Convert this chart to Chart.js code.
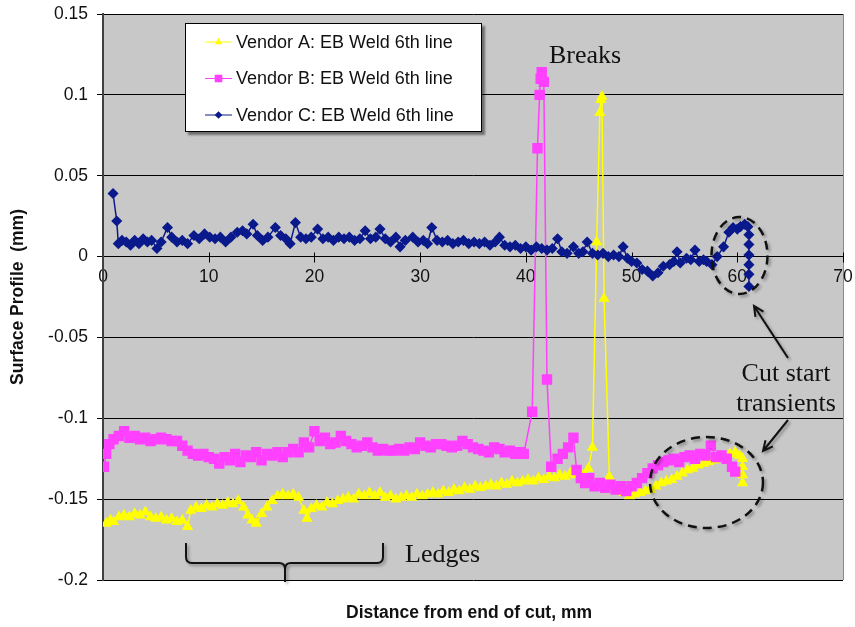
<!DOCTYPE html>
<html>
<head>
<meta charset="utf-8">
<script src="https://cdn.jsdelivr.net/npm/chart.js@4.4.1/dist/chart.umd.min.js"></script>
<style>
  html, body { margin: 0; padding: 0; background: #fff; }
  #wrap { width: 855px; height: 627px; }
</style>
</head>
<body>
<div id="wrap"><canvas id="profileChart" width="855" height="627"></canvas></div>
<script>
// values (x = distance mm, y = surface profile mm)
const seriesNames = ["Vendor A: EB Weld 6th line", "Vendor B: EB Weld 6th line", "Vendor C: EB Weld 6th line"];

const xTickValues = [0, 10, 20, 30, 40, 50, 60, 70];
const xTickLabels = ["0", "10", "20", "30", "40", "50", "60", "70"];
const yTickValues = [-0.2, -0.15, -0.1, -0.05, 0, 0.05, 0.1, 0.15];
const yTickLabels = ["-0.2", "-0.15", "-0.1", "-0.05", "0", "0.05", "0.1", "0.15"];

const vendorAX = [0.3, 0.7, 1.0, 1.5, 2.0, 2.5, 3.0, 3.5, 4.0, 4.5, 5.0, 5.5, 6.0, 6.5, 7.0, 7.5, 8.0, 8.3, 8.8, 9.3,
  9.8, 10.3, 10.8, 11.3, 11.8, 12.3, 12.8, 13.3, 13.7, 14.1, 14.5, 15.0, 15.5, 16.0, 16.5, 17.0, 17.5, 18.0, 18.5, 19.0,
  19.3, 19.7, 20.2, 20.7, 21.2, 21.7, 22.2, 22.7, 23.2, 23.7, 24.2, 24.7, 25.2, 25.7, 26.2, 26.7, 27.2, 27.7, 28.2, 28.7,
  29.2, 29.7, 30.2, 30.7, 31.2, 31.7, 32.2, 32.7, 33.2, 33.7, 34.2, 34.7, 35.2, 35.7, 36.2, 36.7, 37.2, 37.7, 38.2, 38.7,
  39.2, 39.7, 40.2, 40.7, 41.2, 41.7, 42.2, 42.7, 43.2, 43.7, 44.2, 44.7, 45.2, 45.6, 45.9, 46.3, 46.7, 47.0, 47.1, 47.2,
  47.4, 47.9, 48.3, 48.8, 49.3, 49.8, 50.3, 50.8, 51.3, 51.8, 52.3, 52.8, 53.3, 53.8, 54.3, 54.8, 55.3, 55.8, 56.3, 56.8,
  57.3, 57.8, 58.3, 58.8, 59.3, 59.8, 60.2, 60.5, 60.5, 60.5, 60.5];
const vendorAY = [-0.165, -0.163, -0.164, -0.161, -0.160, -0.161, -0.159, -0.160, -0.158, -0.161, -0.162, -0.161, -0.163, -0.162, -0.164, -0.163, -0.167, -0.157, -0.155, -0.156,
  -0.154, -0.155, -0.153, -0.154, -0.152, -0.153, -0.151, -0.155, -0.160, -0.163, -0.165, -0.159, -0.155, -0.151, -0.148, -0.147, -0.148, -0.147, -0.149, -0.157,
  -0.162, -0.156, -0.154, -0.155, -0.152, -0.153, -0.151, -0.150, -0.149, -0.150, -0.147, -0.148, -0.146, -0.148, -0.146, -0.149, -0.148, -0.150, -0.149, -0.148,
  -0.149, -0.147, -0.148, -0.147, -0.146, -0.147, -0.145, -0.146, -0.144, -0.145, -0.143, -0.144, -0.142, -0.143, -0.142, -0.141, -0.142, -0.140, -0.141, -0.139,
  -0.140, -0.139, -0.138, -0.139, -0.137, -0.138, -0.136, -0.137, -0.135, -0.136, -0.134, -0.135, -0.134, -0.136, -0.131, -0.118, 0.009, 0.089, 0.097, 0.099,
  -0.026, -0.136, -0.142, -0.145, -0.146, -0.148, -0.147, -0.146, -0.145, -0.144, -0.142, -0.140, -0.139, -0.138, -0.136, -0.134, -0.132, -0.131, -0.129, -0.128,
  -0.127, -0.126, -0.125, -0.124, -0.122, -0.121, -0.123, -0.125, -0.130, -0.135, -0.140];

const vendorBX = [0.1, 0.3, 0.6, 1.0, 1.5, 2.0, 2.5, 3.0, 3.5, 4.0, 4.5, 5.0, 5.5, 6.0, 6.5, 7.0, 7.5, 8.0, 8.5, 9.0,
  9.5, 10.0, 10.5, 11.0, 11.5, 12.0, 12.5, 13.0, 13.5, 14.0, 14.5, 15.0, 15.5, 16.0, 16.5, 17.0, 17.5, 18.0, 18.5, 19.0,
  19.5, 20.0, 20.5, 21.0, 21.5, 22.0, 22.5, 23.0, 23.5, 24.0, 24.5, 25.0, 25.5, 26.0, 26.5, 27.0, 27.5, 28.0, 28.5, 29.0,
  29.5, 30.0, 30.5, 31.0, 31.5, 32.0, 32.5, 33.0, 33.5, 34.0, 34.5, 35.0, 35.5, 36.0, 36.5, 37.0, 37.5, 38.0, 38.5, 39.0,
  39.5, 39.8, 40.6, 41.1, 41.3, 41.4, 41.5, 41.7, 42.0, 42.4, 43.0, 43.5, 44.0, 44.5, 44.8, 45.2, 45.6, 46.0, 46.5, 47.0,
  47.5, 48.0, 48.5, 49.0, 49.5, 50.0, 50.5, 51.0, 51.5, 52.0, 52.5, 53.0, 53.5, 54.0, 54.5, 55.0, 55.5, 56.0, 56.5, 57.0,
  57.5, 58.0, 58.5, 59.0, 59.5, 59.8];
const vendorBY = [-0.130, -0.122, -0.116, -0.113, -0.111, -0.108, -0.112, -0.111, -0.113, -0.112, -0.114, -0.113, -0.112, -0.113, -0.114, -0.114, -0.117, -0.120, -0.122, -0.123,
  -0.122, -0.124, -0.125, -0.128, -0.124, -0.126, -0.122, -0.127, -0.123, -0.124, -0.121, -0.126, -0.122, -0.123, -0.121, -0.124, -0.121, -0.119, -0.121, -0.115,
  -0.118, -0.108, -0.114, -0.112, -0.116, -0.115, -0.111, -0.114, -0.116, -0.118, -0.117, -0.115, -0.118, -0.120, -0.119, -0.120, -0.120, -0.119, -0.120, -0.118,
  -0.119, -0.115, -0.117, -0.118, -0.116, -0.116, -0.117, -0.118, -0.117, -0.114, -0.116, -0.118, -0.119, -0.120, -0.121, -0.118, -0.119, -0.121, -0.120, -0.122,
  -0.121, -0.122, -0.096, 0.067, 0.100, 0.110, 0.114, 0.108, -0.076, -0.130, -0.125, -0.122, -0.118, -0.112, -0.132, -0.137, -0.140, -0.137, -0.142, -0.140,
  -0.143, -0.141, -0.144, -0.142, -0.145, -0.142, -0.140, -0.137, -0.134, -0.131, -0.129, -0.127, -0.126, -0.125, -0.127, -0.124, -0.123, -0.125, -0.122, -0.123,
  -0.117, -0.124, -0.123, -0.125, -0.130, -0.133];

const vendorCX = [0.95, 1.3, 1.45, 1.8, 2.2, 2.6, 3.0, 3.4, 3.8, 4.2, 4.6, 5.1, 5.5, 6.1, 6.5, 7.0, 7.5, 8.0, 8.6, 9.1,
  9.6, 10.1, 10.6, 11.1, 11.6, 12.1, 12.7, 13.2, 13.6, 14.2, 14.6, 15.1, 15.6, 16.3, 16.8, 17.3, 17.7, 18.2, 18.7, 19.2,
  19.7, 20.3, 20.8, 21.3, 21.8, 22.3, 22.8, 23.3, 23.8, 24.3, 24.8, 25.3, 25.8, 26.2, 26.7, 27.2, 27.7, 28.1, 28.6, 29.3,
  29.8, 30.3, 30.7, 31.1, 31.6, 32.1, 32.6, 33.1, 33.6, 34.1, 34.6, 35.1, 35.6, 36.1, 36.6, 37.1, 37.5, 38.0, 38.5, 39.0,
  39.5, 40.0, 40.5, 41.0, 41.5, 42.0, 42.5, 43.0, 43.4, 43.9, 44.5, 45.0, 45.4, 45.8, 46.3, 46.8, 47.3, 47.8, 48.3, 48.8,
  49.2, 49.6, 50.0, 50.5, 51.0, 51.5, 52.0, 52.5, 53.0, 53.6, 54.0, 54.3, 54.6, 55.2, 55.6, 56.0, 56.4, 56.8, 57.1, 57.6,
  58.1, 58.7, 59.2, 59.6, 60.0, 60.3, 60.7, 61.0, 61.1, 61.1, 61.1, 61.1, 61.1, 61.1];
const vendorCY = [0.039, 0.022, 0.008, 0.010, 0.009, 0.007, 0.010, 0.008, 0.011, 0.009, 0.010, 0.005, 0.009, 0.018, 0.012, 0.009, 0.010, 0.008, 0.013, 0.011,
  0.014, 0.012, 0.011, 0.012, 0.009, 0.012, 0.015, 0.016, 0.014, 0.020, 0.013, 0.010, 0.012, 0.018, 0.013, 0.011, 0.008, 0.021, 0.012, 0.011,
  0.012, 0.017, 0.011, 0.012, 0.010, 0.012, 0.011, 0.012, 0.010, 0.011, 0.016, 0.011, 0.012, 0.017, 0.011, 0.009, 0.012, 0.006, 0.010, 0.012,
  0.009, 0.010, 0.008, 0.018, 0.010, 0.009, 0.010, 0.008, 0.009, 0.010, 0.008, 0.009, 0.008, 0.009, 0.007, 0.009, 0.012, 0.007, 0.006, 0.007,
  0.005, 0.006, 0.004, 0.006, 0.005, 0.004, 0.005, 0.011, 0.003, 0.002, 0.006, 0.002, 0.003, 0.009, 0.002, 0.001, 0.002, 0.000, 0.001, 0.000,
  0.006, -0.001, -0.003, -0.004, -0.008, -0.009, -0.012, -0.010, -0.006, -0.005, -0.003, 0.003, -0.004, -0.001, -0.002, 0.004, -0.003, -0.002, -0.003, -0.005,
  0.000, 0.006, 0.015, 0.018, 0.017, 0.0185, 0.020, 0.0185, 0.0135, 0.0075, 0.001, -0.005, -0.011, -0.0185];

const zip = (xs, ys) => xs.map((x, i) => ({ x: x, y: ys[i] }));

const tickFont = { family: "'Liberation Sans', Arial, sans-serif", size: 17.5 };
const yTickFont = { family: "'Liberation Sans', Arial, sans-serif", size: 17.5, lineHeight: 0.5 };
const titleFont = { family: "'Liberation Sans', Arial, sans-serif", size: 17.5, weight: 'bold' };
const noteFont = "26px 'Liberation Serif', 'Times New Roman', serif";

// grey plot area + light right edge
const plotBackdrop = {
  id: 'plotBackdrop',
  beforeDraw(chart) {
    const { ctx, chartArea: a } = chart;
    ctx.save();
    ctx.fillStyle = '#c8c8c8';
    ctx.fillRect(a.left, a.top, a.right - a.left, a.bottom - a.top);
    ctx.strokeStyle = '#8c8c8c';
    ctx.lineWidth = 1;
    ctx.beginPath();
    ctx.moveTo(a.right + 0.5, a.top);
    ctx.lineTo(a.right + 0.5, a.bottom);
    ctx.stroke();
    // x tick marks cross the zero line
    const xs = chart.scales.x, y0 = Math.round(chart.scales.y.getPixelForValue(0)) + 0.5;
    ctx.strokeStyle = '#000';
    xTickValues.forEach(v => {
      const px = Math.round(xs.getPixelForValue(v)) + 0.5;
      ctx.beginPath();
      ctx.moveTo(px, y0 - 5);
      ctx.lineTo(px, y0 + 5);
      ctx.stroke();
    });
    ctx.restore();
  }
};

// legend box sitting inside the plot
const insetLegend = {
  id: 'insetLegend',
  afterDatasetsDraw(chart) {
    const ctx = chart.ctx;
    ctx.save();
    ctx.shadowColor = 'rgba(0,0,0,0.45)';
    ctx.shadowOffsetX = 3;
    ctx.shadowOffsetY = 3;
    ctx.shadowBlur = 2;
    ctx.fillStyle = '#fff';
    ctx.fillRect(185, 23, 297, 109);
    ctx.shadowColor = 'transparent';
    ctx.strokeStyle = '#000';
    ctx.lineWidth = 1;
    ctx.strokeRect(185.5, 23.5, 296, 108);
    ctx.font = "18px 'Liberation Sans', Arial, sans-serif";
    ctx.textBaseline = 'middle';
    chart.data.datasets.forEach((ds, i) => {
      const y = 42 + i * 36.5;
      ctx.strokeStyle = ds.borderColor;
      ctx.lineWidth = 1;
      ctx.beginPath();
      ctx.moveTo(205, y);
      ctx.lineTo(232, y);
      ctx.stroke();
      ctx.fillStyle = ds.pointBackgroundColor;
      ctx.strokeStyle = ds.pointBorderColor;
      Chart.helpers.drawPoint(ctx, { pointStyle: ds.pointStyle, radius: ds.pointRadius * 0.85, borderWidth: 0, rotation: 0 }, 218.5, y);
      ctx.fillStyle = '#111';
      ctx.fillText(ds.label, 236, y + 1);
    });
    ctx.restore();
  }
};

// call-outs: text, dashed rings, arrows, brace, x title
const callouts = {
  id: 'callouts',
  afterDraw(chart) {
    const ctx = chart.ctx;
    ctx.save();
    ctx.fillStyle = '#111';
    ctx.font = noteFont;
    ctx.textBaseline = 'alphabetic';
    ctx.textAlign = 'left';
    ctx.fillText('Breaks', 549, 63);
    ctx.fillText('Ledges', 405, 562);
    ctx.textAlign = 'center';
    ctx.fillText('Cut start', 786, 381);
    ctx.fillText('transients', 786, 411);

    ctx.font = "bold 17.5px 'Liberation Sans', Arial, sans-serif";
    ctx.fillText('Distance from end of cut, mm', 469, 618);

    ctx.shadowColor = 'rgba(0,0,0,0.35)';
    ctx.shadowOffsetX = 2;
    ctx.shadowOffsetY = 2;
    ctx.shadowBlur = 3;
    ctx.strokeStyle = '#111';
    ctx.lineWidth = 2.5;
    ctx.setLineDash([9, 6]);
    ctx.beginPath();
    ctx.ellipse(739.5, 255.5, 28, 38.5, 0, 0, Math.PI * 2);
    ctx.stroke();
    ctx.beginPath();
    ctx.ellipse(706.5, 482.5, 56.5, 45.5, 0, 0, Math.PI * 2);
    ctx.stroke();
    ctx.setLineDash([]);

    ctx.lineWidth = 2;
    const arrow = (x1, y1, x2, y2) => {
      const ang = Math.atan2(y2 - y1, x2 - x1);
      ctx.beginPath();
      ctx.moveTo(x1, y1);
      ctx.lineTo(x2, y2);
      ctx.moveTo(x2 - 11 * Math.cos(ang - 0.45), y2 - 11 * Math.sin(ang - 0.45));
      ctx.lineTo(x2, y2);
      ctx.lineTo(x2 - 11 * Math.cos(ang + 0.45), y2 - 11 * Math.sin(ang + 0.45));
      ctx.stroke();
    };
    arrow(788, 358, 754, 306);
    arrow(788, 420, 763, 451);

    ctx.beginPath();
    ctx.moveTo(186, 543);
    ctx.lineTo(186, 557);
    ctx.quadraticCurveTo(186, 563, 192, 563);
    ctx.lineTo(279, 563);
    ctx.quadraticCurveTo(285, 563, 285, 569);
    ctx.lineTo(285, 582);
    ctx.moveTo(285, 569);
    ctx.quadraticCurveTo(285, 563, 291, 563);
    ctx.lineTo(377, 563);
    ctx.quadraticCurveTo(383, 563, 383, 557);
    ctx.lineTo(383, 543);
    ctx.stroke();
    ctx.restore();
  }
};

new Chart(document.getElementById('profileChart'), {
  type: 'line',
  data: {
    datasets: [
      {
        label: seriesNames[0],
        data: zip(vendorAX, vendorAY),
        borderColor: '#ffff00',
        pointBackgroundColor: '#ffff00',
        pointBorderColor: '#ffff00',
        pointStyle: 'triangle',
        pointRadius: 5,
        borderWidth: 1.5,
        order: 3
      },
      {
        label: seriesNames[1],
        data: zip(vendorBX, vendorBY),
        borderColor: '#ff40ff',
        pointBackgroundColor: '#ff40ff',
        pointBorderColor: '#ff40ff',
        pointStyle: 'rect',
        pointRadius: 6.3,
        borderWidth: 1.5,
        order: 2
      },
      {
        label: seriesNames[2],
        data: zip(vendorCX, vendorCY),
        borderColor: '#0a1a8c',
        pointBackgroundColor: '#0a1a8c',
        pointBorderColor: '#0a1a8c',
        pointStyle: 'rectRot',
        pointRadius: 4.5,
        borderWidth: 1.5,
        order: 1
      }
    ]
  },
  options: {
    responsive: false,
    animation: false,
    devicePixelRatio: 1,
    layout: { padding: { top: 14, right: 12, bottom: 47, left: 0 } },
    elements: { line: { tension: 0 }, point: { borderWidth: 0, hoverRadius: 5 } },
    plugins: { legend: { display: false }, tooltip: { enabled: false } },
    scales: {
      x: {
        type: 'linear',
        position: { y: 0 },
        min: 0,
        max: 70,
        afterBuildTicks: s => { s.ticks = xTickValues.map(v => ({ value: v })); },
        ticks: {
          font: tickFont,
          color: '#111',
          padding: 2,
          maxRotation: 0,
          callback: (v, i) => xTickLabels[i]
        },
        grid: { drawOnChartArea: false, tickColor: 'rgba(0,0,0,0)', tickLength: 8 },
        border: { color: '#000', width: 1 }
      },
      y: {
        type: 'linear',
        min: -0.2,
        max: 0.15,
        afterFit: s => { s.width = 103; },
        afterBuildTicks: s => { s.ticks = yTickValues.map(v => ({ value: v })); },
        ticks: {
          font: yTickFont,
          color: '#111',
          padding: 9,
          callback: (v, i) => yTickLabels[i]
        },
        grid: { color: '#000', lineWidth: 1, tickLength: 6 },
        border: { color: '#404040', width: 2 },
        title: {
          display: true,
          text: 'Surface Profile  (mm)',
          font: titleFont,
          color: '#111',
          padding: { top: 8, bottom: 0 }
        }
      }
    }
  },
  plugins: [plotBackdrop, insetLegend, callouts]
});
</script>
</body>
</html>
